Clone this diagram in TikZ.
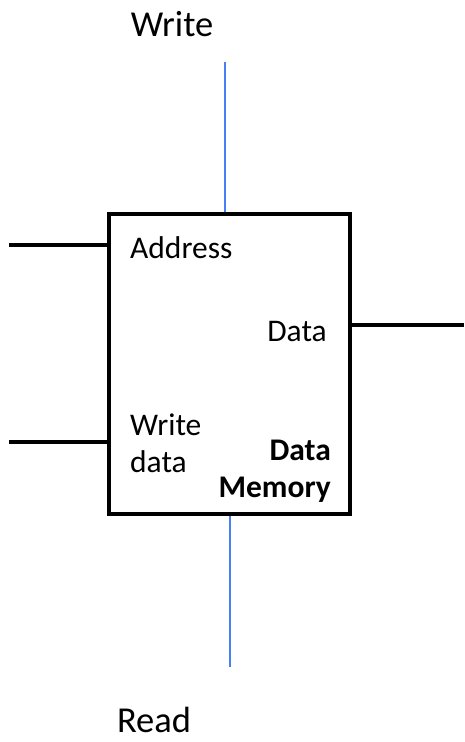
\documentclass[tikz,border=0pt]{standalone}
\usepackage{fontspec}
\setmainfont{Carlito}
\usetikzlibrary{positioning}
\definecolor{sigblue}{RGB}{70,128,245}

\begin{document}
\begin{tikzpicture}[x=1pt,y=-1pt,
    port/.style={inner sep=0pt,font=\fontsize{31.5}{38}\selectfont},
    ctrl/.style={inner sep=0pt,font=\fontsize{36.5}{44}\selectfont},
    bus/.style={line width=4pt,black},
    sig/.style={line width=2pt,sigblue}]
    \useasboundingbox (0,0) rectangle (464,742);
    % Memory block
    \node[draw,line width=4pt,minimum width=241pt,minimum height=300pt,inner sep=0pt]
        (mem) at (229.5,364) {};
    % Port labels
    \node[port,anchor=base west] (addr) at (130,258) {Address};
    \node[port,anchor=base west] (wrlab) at (130,435) {Write};
    \node[port,anchor=base west] (wdata) at (130,472) {data};
    \node[port,anchor=base east] (dout) at (327,341) {Data};
    \node[port,anchor=base east,font=\fontsize{31.5}{38}\selectfont\bfseries] (title) at (331,460) {Data};
    \node[port,anchor=base east,font=\fontsize{31.5}{38}\selectfont\bfseries] (title2) at (331,497) {Memory};
    % Control labels
    \node[ctrl,anchor=base] (wlab) at (172,36) {Write};
    \node[ctrl,anchor=base] (rlab) at (154,732) {Read};
    % Free ends
    \coordinate (addrin) at (9,245);
    \coordinate (wdin) at (9,442);
    \coordinate (dataout) at (464,325);
    \coordinate (wtop) at (225,62);
    \coordinate (rbot) at (230,667);
    % Buses
    \draw[bus] (addrin) -- (addrin -| mem.west);
    \draw[bus] (wdin) -- (wdin -| mem.west);
    \draw[bus] (dataout -| mem.east) -- (dataout);
    % Control signals
    \draw[sig] (wtop) -- (wtop |- mem.north);
    \draw[sig] (rbot |- mem.south) -- (rbot);
\end{tikzpicture}
\end{document}
